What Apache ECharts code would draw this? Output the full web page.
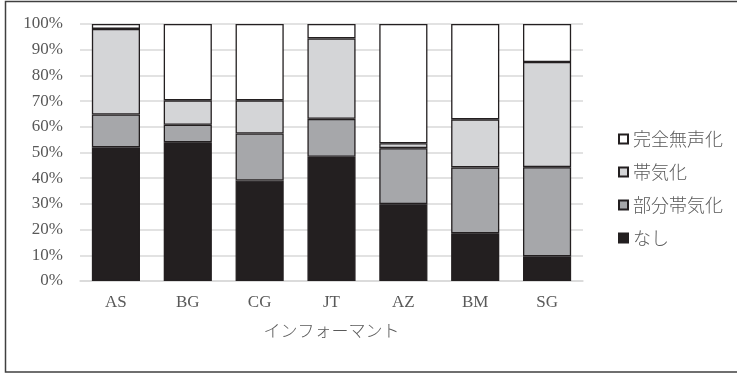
<!DOCTYPE html>
<html>
<head>
<meta charset="utf-8">
<script src="https://cdn.jsdelivr.net/npm/echarts@6/dist/echarts.min.js"></script>
<style>
  html, body { margin: 0; padding: 0; background: #fff; }
  #chart { width: 737px; height: 373px; }
</style>
</head>
<body>
<div id="chart"></div>
<script>
// Informants (x axis categories)
const informants = ['AS', 'BG', 'CG', 'JT', 'AZ', 'BM', 'SG'];

// Share of each realisation per informant (%), stacked bottom to top
const nashi = [52.0, 54.0, 39.1, 48.3, 29.9, 18.6, 9.6];          // なし
const bubunTaikika = [12.8, 6.8, 18.3, 14.8, 21.8, 25.6, 34.7];  // 部分帯気化
const taikika = [33.3, 9.5, 12.9, 31.3, 1.9, 18.7, 40.9];        // 帯気化
const kanzenMuseika = [1.9, 29.7, 29.7, 5.6, 46.4, 37.1, 14.8];  // 完全無声化

const yTicks = [0, 10, 20, 30, 40, 50, 60, 70, 80, 90, 100];

const serif = '"Liberation Serif", "Times New Roman", serif';
const cjk = '"Noto Sans CJK JP", sans-serif';
const textColor = '#595959';
const edge = '#231f20';

function bar(name, data, color) {
  return {
    name: name,
    type: 'bar',
    stack: 'total',
    barWidth: '67%',
    data: data,
    itemStyle: { color: color, borderColor: edge, borderWidth: 1.3 }
  };
}

const chart = echarts.init(document.getElementById('chart'), null, { renderer: 'canvas' });
chart.setOption({
  animation: false,
  backgroundColor: '#fff',
  grid: { left: 80, right: 154, top: 24, bottom: 92 },
  xAxis: {
    type: 'category',
    data: informants,
    name: 'インフォーマント',
    nameLocation: 'middle',
    nameGap: 41,
    nameTextStyle: { fontFamily: cjk, fontSize: 17, color: textColor, fontWeight: 300 },
    axisLine: { show: true, lineStyle: { color: '#d9d9d9', width: 1.5 } },
    axisTick: { show: false },
    axisLabel: { fontFamily: serif, fontSize: 17, color: textColor, margin: 13 }
  },
  yAxis: {
    type: 'value',
    min: yTicks[0],
    max: yTicks[yTicks.length - 1],
    interval: 10,
    axisLine: { show: false },
    axisTick: { show: false },
    splitLine: { lineStyle: { color: '#d9d9d9', width: 1.5 } },
    axisLabel: {
      fontFamily: serif, fontSize: 17, color: textColor, margin: 17,
      formatter: v => v + '%'
    }
  },
  legend: {
    orient: 'vertical',
    left: 613,
    top: 124,
    icon: 'rect',
    itemWidth: 9,
    itemHeight: 9,
    itemGap: 13,
    data: ['完全無声化', '帯気化', '部分帯気化', 'なし'],
    textStyle: { fontFamily: cjk, fontSize: 18, color: textColor, fontWeight: 300, lineHeight: 20 }
  },
  series: [
    bar('なし', nashi, '#231f20'),
    bar('部分帯気化', bubunTaikika, '#a6a7aa'),
    bar('帯気化', taikika, '#d4d5d7'),
    bar('完全無声化', kanzenMuseika, '#ffffff')
  ],
  graphic: [{
    type: 'rect',
    shape: { x: 5.5, y: 1.5, width: 740, height: 370.5 },
    style: { fill: 'none', stroke: '#404040', lineWidth: 1.5 },
    silent: true
  }]
});
</script>
</body>
</html>
